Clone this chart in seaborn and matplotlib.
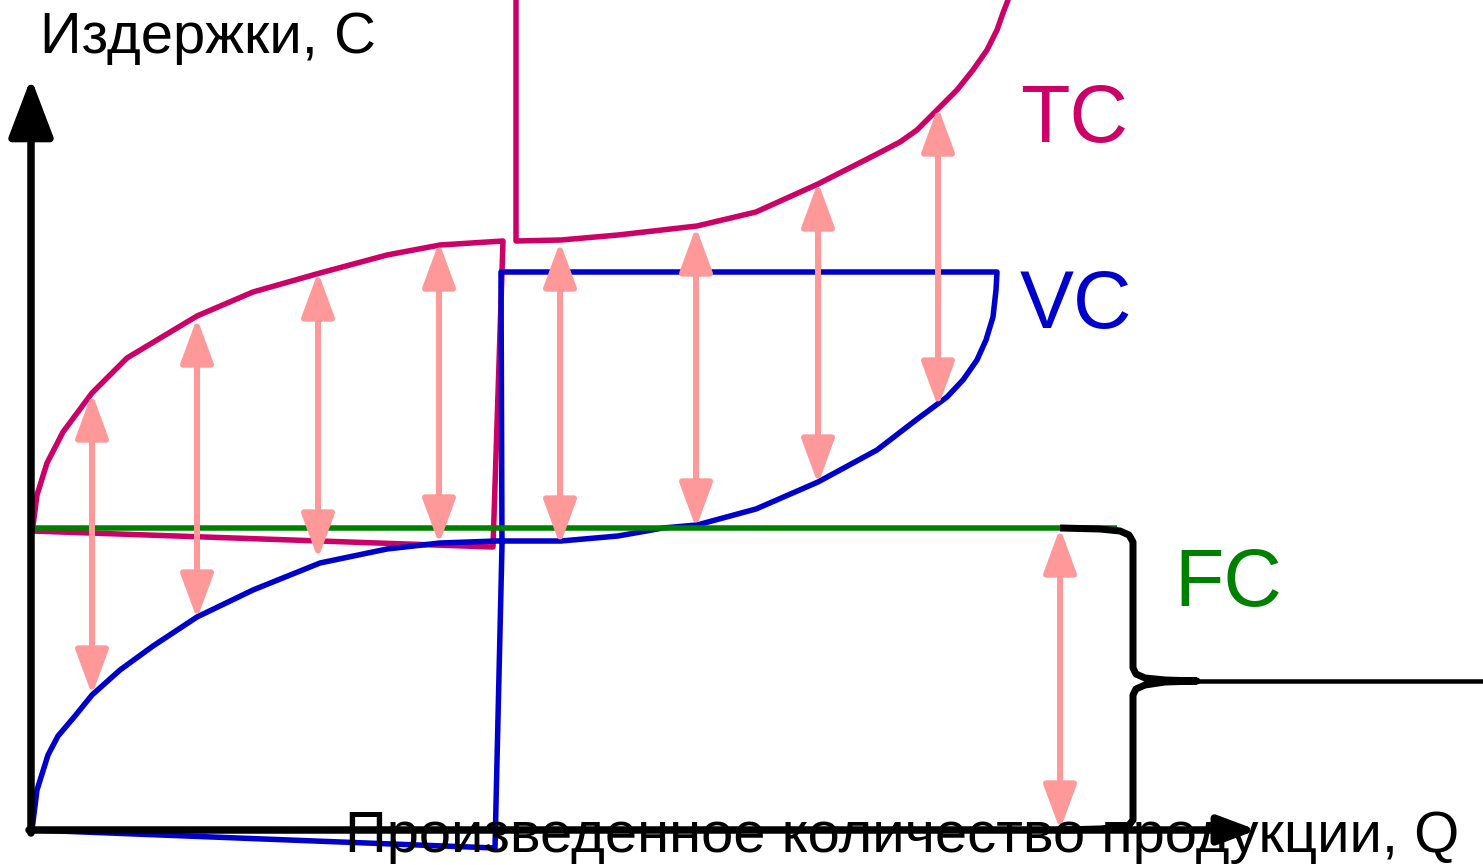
import seaborn as sns
import matplotlib.pyplot as plt
from matplotlib.patches import FancyArrowPatch

# Curve data (Q = output, C = cost)
vc_q = [0, 5, 16, 26, 43, 60, 88, 121, 165, 221, 288, 355, 408, 465, 529, 586, 631, 665, 724, 786, 845, 884, 915, 931,
        945, 954, 961, 964, 965,
        469, 470, 463, 0]
vc_c = [0, 40, 75, 94, 114, 135, 160, 184, 213, 240, 267, 281, 287, 289, 289, 294, 302, 305, 321, 348, 380, 410, 433, 450,
        470, 490, 513, 540, 558,
        558, 285, -18, 0]

tc_left_q = [0, 1, 5, 15, 31, 60, 95, 165, 221, 288, 355, 408, 471, 461, 0]
tc_left_c = [300, 304, 335, 367, 398, 437, 472, 514, 538, 557, 575, 585, 589, 283, 299]

tc_right_q = [484, 484, 529, 586, 665, 724, 786, 845, 868, 885, 905, 925, 941, 955, 965, 971, 976, 979]
tc_right_c = [840, 589, 590, 595, 604, 618, 646, 676, 688, 700, 720, 740, 760, 780, 800, 817, 830, 840]

fc_q = [0, 1085]
fc_c = [302, 302]

# double arrows between the curves
arrow_q = [60, 165, 286, 407, 528, 664, 786, 906, 1028]
arrow_low = [135, 211, 271, 286, 285, 302, 346, 423, 0]
arrow_high = [437, 512, 558, 588, 588, 603, 648, 723, 302]

# brace next to FC
brace_q = [1028, 1068, 1088, 1097, 1101, 1101, 1104, 1113, 1133, 1165,
           1133, 1113, 1104, 1101, 1101, 1097, 1088, 1068, 1028]
brace_c = [302, 301, 299, 295, 288, 162, 156, 152, 150, 149,
           148, 145, 141, 135, 10, 5, 3, 1, 0]
tail_q = [1150, 1451]
tail_c = [149, 149]

labels = ['TC', 'VC', 'FC']
label_colors = ['#CC0066', '#0000CC', '#008000']
label_pos = [(988, 688), (988, 502), (1142, 224)]

sns.set_style('white')
plt.rcParams['font.family'] = ['Liberation Sans', 'DejaVu Sans']
plt.rcParams['text.color'] = 'black'

px = 72 / 100  # points per pixel
fig = plt.figure(figsize=(14.83, 8.65), dpi=100)
ax = fig.add_axes([0, 0, 1, 1])


def draw(q, c, color, width, z):
    sns.lineplot(x=q, y=c, sort=False, estimator=None, color=color, ax=ax)
    line = ax.lines[-1]
    line.set_linewidth(width * px)
    line.set_zorder(z)
    line.set_solid_joinstyle('round')
    line.set_solid_capstyle('butt')


draw(tc_left_q, tc_left_c, '#CC0066', 5.5, 2)
draw(tc_right_q, tc_right_c, '#CC0066', 5.5, 2)
draw(vc_q, vc_c, '#0000CC', 5.5, 3)
draw(fc_q, fc_c, '#008000', 5.5, 4)

for q, lo, hi in zip(arrow_q, arrow_low, arrow_high):
    ax.add_patch(FancyArrowPatch((q, lo), (q, hi), arrowstyle='<|-|>,head_length=%g,head_width=%g' % (38 * px, 14 * px),
                                 mutation_scale=1, shrinkA=0, shrinkB=0, color='#FF9999', lw=6 * px, zorder=5))

# axes with arrow heads
ax.add_patch(FancyArrowPatch((-1, -3), (-1, 752), arrowstyle='-|>,head_length=%g,head_width=%g' % (50 * px, 19 * px),
                             mutation_scale=1, shrinkA=0, shrinkB=0, color='black', lw=7.5 * px, zorder=6))
ax.add_patch(FancyArrowPatch((-3, 0), (1225, 0), arrowstyle='-|>,head_length=%g,head_width=%g' % (32 * px, 12 * px),
                             mutation_scale=1, shrinkA=0, shrinkB=0, color='black', lw=7.5 * px, zorder=6))

draw(brace_q, brace_c, 'black', 7, 6)
draw(tail_q, tail_c, 'black', 4.5, 6)

# text
ax.text(8, 777, 'Издержки, С', color='black', fontsize=58 * px, ha='left', va='baseline', zorder=7)
ax.text(313, -22, 'Произведенное количество продукции, Q', color='black', fontsize=58 * px,
        ha='left', va='baseline', zorder=7)
for lab, col, (lq, lc) in zip(labels, label_colors, label_pos):
    ax.text(lq, lc, lab, color=col, fontsize=81 * px, ha='left', va='baseline', zorder=7)

ax.set_xlim(-32, 1451)
ax.set_ylim(-35, 830)
ax.axis('off')

plt.savefig('out.png', dpi=100)
